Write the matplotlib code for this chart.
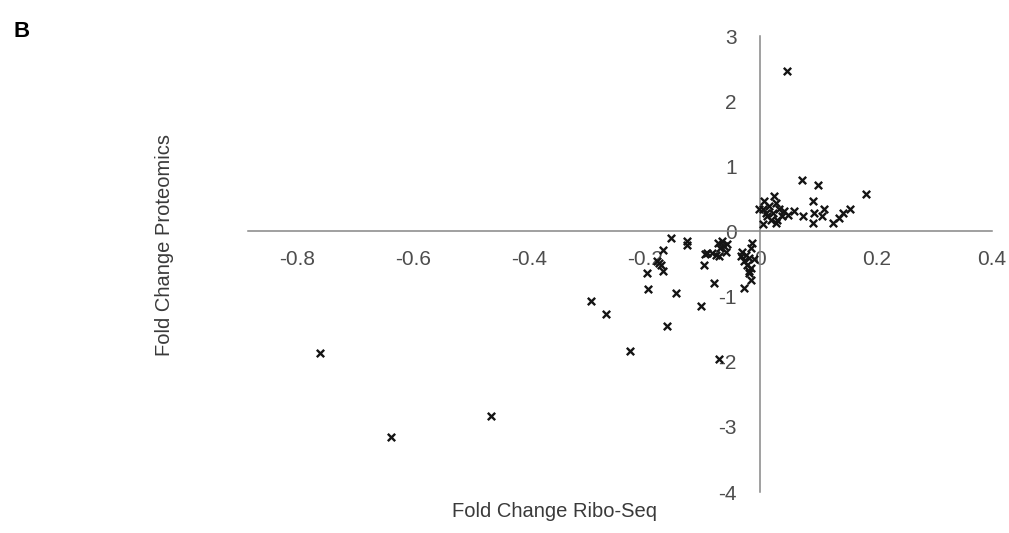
import numpy as np
import matplotlib.pyplot as plt

plt.rcParams['font.family'] = ['Liberation Sans', 'DejaVu Sans']
plt.rcParams['axes.unicode_minus'] = False

# Fold changes (Ribo-Seq vs Proteomics)
ribo = [
    -0.760, -0.638, -0.466,
    -0.292, -0.266, -0.225, -0.162, -0.194, -0.145, -0.102, -0.080, -0.072,
    -0.029, -0.016, -0.020, -0.196, -0.168, -0.175, -0.178, -0.172,
    -0.168, -0.154, -0.126, -0.126, -0.098, -0.096,
    -0.074, -0.069, -0.063, -0.060, -0.072, -0.077, -0.057, -0.066, -0.083, -0.092,
    -0.031, -0.025, -0.017, -0.020, -0.014, -0.028, -0.023, -0.017, -0.020, -0.034, -0.011,
    0.046,
    0.071, 0.099, 0.182, 0.090, 0.154, 0.142, 0.136, 0.125, 0.110, 0.107,
    0.093, 0.090, 0.073, 0.058, 0.047,
    0.006, 0.024, 0.004, 0.015, 0.027, 0.032, 0.021, 0.012, 0.038, 0.029,
    0.004, 0.027, 0.018, 0.041, 0.009, -0.002,
]
proteomics = [
    -1.86, -3.16, -2.84,
    -1.06, -1.26, -1.84, -1.45, -0.88, -0.94, -1.15, -0.79, -1.96,
    -0.87, -0.75, -0.61, -0.64, -0.61, -0.48, -0.45, -0.52,
    -0.28, -0.10, -0.14, -0.21, -0.51, -0.34,
    -0.18, -0.25, -0.23, -0.31, -0.38, -0.36, -0.20, -0.15, -0.33, -0.33,
    -0.31, -0.36, -0.25, -0.41, -0.18, -0.46, -0.51, -0.56, -0.64, -0.38, -0.43,
    2.46,
    0.79, 0.72, 0.57, 0.46, 0.35, 0.28, 0.21, 0.13, 0.35, 0.23,
    0.28, 0.13, 0.23, 0.31, 0.26,
    0.46, 0.54, 0.34, 0.39, 0.44, 0.34, 0.28, 0.23, 0.23, 0.18,
    0.11, 0.13, 0.18, 0.31, 0.28, 0.34,
]

x_ticks = [-0.8, -0.6, -0.4, -0.2, 0, 0.2, 0.4]
x_labels = ['-0.8', '-0.6', '-0.4', '-0.2', '0', '0.2', '0.4']
y_ticks = [-4, -3, -2, -1, 0, 1, 2, 3]
y_labels = ['-4', '-3', '-2', '-1', '0', '1', '2', '3']

fig = plt.figure(figsize=(10.09, 5.33), dpi=100)
ax = fig.add_axes([0.2458, 0.0769, 0.7374, 0.8555])

ax.scatter(ribo, proteomics, marker='x', s=28, linewidths=1.7, color='#141414', zorder=3)

ax.set_xlim(-0.885, 0.4)
ax.set_ylim(-4, 3)

# Excel-style axes crossing at the origin
for side in ['top', 'right']:
    ax.spines[side].set_visible(False)
ax.spines['left'].set_position('zero')
ax.spines['bottom'].set_position('zero')
for side in ['left', 'bottom']:
    ax.spines[side].set_color('#868686')
    ax.spines[side].set_linewidth(1.1)

ax.set_xticks(x_ticks)
ax.set_xticklabels(x_labels)
ax.set_yticks(y_ticks)
ax.set_yticklabels(y_labels)
ax.tick_params(axis='x', length=0, pad=13, labelsize=15, colors='#4d4d4d')
ax.tick_params(axis='y', length=0, pad=17, labelsize=15, colors='#4d4d4d')

fig.text(0.55, 0.022, 'Fold Change Ribo-Seq', ha='center', va='bottom',
         fontsize=14.5, color='#3a3a3a')
fig.text(0.163, 0.54, 'Fold Change Proteomics', ha='center', va='center',
         rotation=90, fontsize=14.5, color='#3a3a3a')
fig.text(0.013, 0.93, 'B', fontsize=16, fontweight='bold', color='black')

fig.savefig('out.png', dpi=100)
